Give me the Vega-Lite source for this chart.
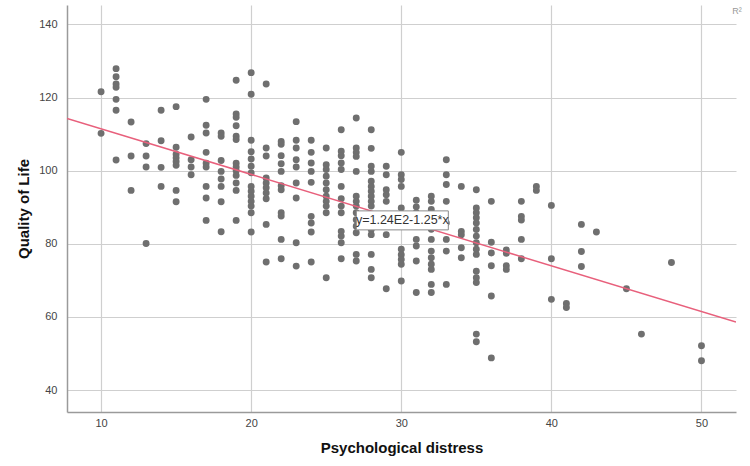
{
  "$schema": "https://vega.github.io/schema/vega-lite/v6.json",
  "width": 669,
  "height": 407,
  "autosize": {"type": "none"},
  "padding": {"left": 67, "top": 5, "right": 14, "bottom": 54},
  "config": {
    "font": "Liberation Sans",
    "view": {"stroke": null},
    "axis": {
      "labelFont": "Liberation Sans",
      "titleFont": "Liberation Sans",
      "labelColor": "#444444",
      "labelFontSize": 11,
      "titleFontSize": 15,
      "titleFontWeight": "bold",
      "titleColor": "#111111",
      "ticks": false,
      "domainColor": "#9a9a9a",
      "domainWidth": 1.5,
      "gridColor": "#cfcfcf",
      "gridWidth": 1.2
    }
  },
  "datasets": {
    "pts": [
      {"distress":10,"qol":121.6},{"distress":10,"qol":110.2},
      {"distress":11,"qol":127.9},{"distress":11,"qol":125.7},{"distress":11,"qol":123.7},{"distress":11,"qol":122.8},{"distress":11,"qol":119.5},{"distress":11,"qol":116.5},{"distress":11,"qol":102.9},
      {"distress":12,"qol":113.3},{"distress":12,"qol":104},{"distress":12,"qol":94.6},
      {"distress":13,"qol":107.4},{"distress":13,"qol":104},{"distress":13,"qol":101},{"distress":13,"qol":80.1},
      {"distress":14,"qol":116.5},{"distress":14,"qol":108.2},{"distress":14,"qol":100.9},{"distress":14,"qol":95.7},
      {"distress":15,"qol":117.5},{"distress":15,"qol":106.4},{"distress":15,"qol":104.5},{"distress":15,"qol":103.5},{"distress":15,"qol":102.5},{"distress":15,"qol":101.5},{"distress":15,"qol":94.6},{"distress":15,"qol":91.5},
      {"distress":16,"qol":109.2},{"distress":16,"qol":103},{"distress":16,"qol":101},{"distress":16,"qol":98.9},
      {"distress":17,"qol":119.5},{"distress":17,"qol":112.4},{"distress":17,"qol":110.3},{"distress":17,"qol":105},{"distress":17,"qol":102},{"distress":17,"qol":101},{"distress":17,"qol":95.7},{"distress":17,"qol":92.5},{"distress":17,"qol":86.4},
      {"distress":18,"qol":110.3},{"distress":18,"qol":109.4},{"distress":18,"qol":102.8},{"distress":18,"qol":99.8},{"distress":18,"qol":97.7},{"distress":18,"qol":95.7},{"distress":18,"qol":91.5},{"distress":18,"qol":83.3},
      {"distress":19,"qol":124.7},{"distress":19,"qol":115.5},{"distress":19,"qol":114.6},{"distress":19,"qol":112.3},{"distress":19,"qol":109.4},{"distress":19,"qol":108.5},{"distress":19,"qol":102},{"distress":19,"qol":101},{"distress":19,"qol":100},{"distress":19,"qol":98.7},{"distress":19,"qol":96.6},{"distress":19,"qol":94.6},{"distress":19,"qol":86.4},
      {"distress":20,"qol":126.8},{"distress":20,"qol":120.9},{"distress":20,"qol":108.3},{"distress":20,"qol":105.2},{"distress":20,"qol":103.2},{"distress":20,"qol":101.2},{"distress":20,"qol":99.4},{"distress":20,"qol":95.7},{"distress":20,"qol":94.4},{"distress":20,"qol":93},{"distress":20,"qol":91.6},{"distress":20,"qol":90.3},{"distress":20,"qol":88.5},{"distress":20,"qol":83.2},
      {"distress":21,"qol":123.7},{"distress":21,"qol":106.2},{"distress":21,"qol":104},{"distress":21,"qol":98},{"distress":21,"qol":96.6},{"distress":21,"qol":95.3},{"distress":21,"qol":93.9},{"distress":21,"qol":92.3},{"distress":21,"qol":85.3},{"distress":21,"qol":75},
      {"distress":22,"qol":108},{"distress":22,"qol":107.2},{"distress":22,"qol":104.1},{"distress":22,"qol":101.9},{"distress":22,"qol":99.8},{"distress":22,"qol":95.9},{"distress":22,"qol":94.8},{"distress":22,"qol":88.5},{"distress":22,"qol":87.6},{"distress":22,"qol":81.2},{"distress":22,"qol":75.9},
      {"distress":23,"qol":113.4},{"distress":23,"qol":108.3},{"distress":23,"qol":106.2},{"distress":23,"qol":103},{"distress":23,"qol":101},{"distress":23,"qol":96.6},{"distress":23,"qol":92.5},{"distress":23,"qol":80.3},{"distress":23,"qol":73.9},
      {"distress":24,"qol":108.3},{"distress":24,"qol":105},{"distress":24,"qol":102.1},{"distress":24,"qol":99.8},{"distress":24,"qol":96.8},{"distress":24,"qol":87.5},{"distress":24,"qol":85.7},{"distress":24,"qol":83.2},{"distress":24,"qol":75},
      {"distress":25,"qol":106.2},{"distress":25,"qol":101.6},{"distress":25,"qol":100.3},{"distress":25,"qol":98.5},{"distress":25,"qol":96.6},{"distress":25,"qol":94.8},{"distress":25,"qol":93},{"distress":25,"qol":91.6},{"distress":25,"qol":90.3},{"distress":25,"qol":88.5},{"distress":25,"qol":70.7},
      {"distress":26,"qol":111.2},{"distress":26,"qol":105.3},{"distress":26,"qol":104.1},{"distress":26,"qol":102.1},{"distress":26,"qol":100.3},{"distress":26,"qol":95.7},{"distress":26,"qol":92.3},{"distress":26,"qol":90.3},{"distress":26,"qol":88.5},{"distress":26,"qol":83.4},{"distress":26,"qol":82.1},{"distress":26,"qol":80.3},{"distress":26,"qol":75.9},
      {"distress":27,"qol":114.4},{"distress":27,"qol":106.2},{"distress":27,"qol":105},{"distress":27,"qol":103.9},{"distress":27,"qol":99.8},{"distress":27,"qol":93},{"distress":27,"qol":91.6},{"distress":27,"qol":90.3},{"distress":27,"qol":88.5},{"distress":27,"qol":86.6},{"distress":27,"qol":84.8},{"distress":27,"qol":83},{"distress":27,"qol":77.1},{"distress":27,"qol":75.3},
      {"distress":28,"qol":111.2},{"distress":28,"qol":106.1},{"distress":28,"qol":101.2},{"distress":28,"qol":99.8},{"distress":28,"qol":97.1},{"distress":28,"qol":95.7},{"distress":28,"qol":94.4},{"distress":28,"qol":93},{"distress":28,"qol":91.6},{"distress":28,"qol":90.3},{"distress":28,"qol":87.5},{"distress":28,"qol":85.7},{"distress":28,"qol":83.9},{"distress":28,"qol":82.5},{"distress":28,"qol":77.1},{"distress":28,"qol":73},{"distress":28,"qol":70.7},
      {"distress":29,"qol":101.2},{"distress":29,"qol":98.9},{"distress":29,"qol":94.8},{"distress":29,"qol":93.4},{"distress":29,"qol":91.6},{"distress":29,"qol":86.6},{"distress":29,"qol":82.5},{"distress":29,"qol":67.7},
      {"distress":30,"qol":105},{"distress":30,"qol":98.9},{"distress":30,"qol":97.6},{"distress":30,"qol":95.7},{"distress":30,"qol":89.8},{"distress":30,"qol":88},{"distress":30,"qol":86.2},{"distress":30,"qol":84.8},{"distress":30,"qol":78.5},{"distress":30,"qol":77},{"distress":30,"qol":75.7},{"distress":30,"qol":74.4},{"distress":30,"qol":69.8},
      {"distress":31,"qol":91.9},{"distress":31,"qol":90.1},{"distress":31,"qol":88.5},{"distress":31,"qol":87.1},{"distress":31,"qol":81.2},{"distress":31,"qol":79.4},{"distress":31,"qol":75.3},{"distress":31,"qol":66.7},
      {"distress":32,"qol":93},{"distress":32,"qol":91.6},{"distress":32,"qol":89.4},{"distress":32,"qol":87.1},{"distress":32,"qol":84},{"distress":32,"qol":81.2},{"distress":32,"qol":78},{"distress":32,"qol":76.2},{"distress":32,"qol":74.4},{"distress":32,"qol":73},{"distress":32,"qol":68.9},{"distress":32,"qol":66.7},
      {"distress":33,"qol":103},{"distress":33,"qol":98.9},{"distress":33,"qol":96.2},{"distress":33,"qol":91.6},{"distress":33,"qol":85.7},{"distress":33,"qol":81.2},{"distress":33,"qol":78},{"distress":33,"qol":68.9},
      {"distress":34,"qol":95.7},{"distress":34,"qol":83.4},{"distress":34,"qol":82.5},{"distress":34,"qol":78.9},{"distress":34,"qol":76.2},
      {"distress":35,"qol":94.8},{"distress":35,"qol":89.8},{"distress":35,"qol":88.5},{"distress":35,"qol":87.1},{"distress":35,"qol":85.7},{"distress":35,"qol":83.9},{"distress":35,"qol":82.1},{"distress":35,"qol":80.3},{"distress":35,"qol":78.5},{"distress":35,"qol":77.1},{"distress":35,"qol":72.5},{"distress":35,"qol":70.7},{"distress":35,"qol":69.4},{"distress":35,"qol":55.3},{"distress":35,"qol":53.2},
      {"distress":36,"qol":91.6},{"distress":36,"qol":80.4},{"distress":36,"qol":77.5},{"distress":36,"qol":74},{"distress":36,"qol":65.7},{"distress":36,"qol":48.8},
      {"distress":37,"qol":78.3},{"distress":37,"qol":77.4},{"distress":37,"qol":74},{"distress":37,"qol":73},
      {"distress":38,"qol":91.6},{"distress":38,"qol":87.5},{"distress":38,"qol":86.5},{"distress":38,"qol":81.2},{"distress":38,"qol":75.9},
      {"distress":39,"qol":95.7},{"distress":39,"qol":94.6},
      {"distress":40,"qol":90.5},{"distress":40,"qol":75.9},{"distress":40,"qol":64.8},
      {"distress":41,"qol":63.7},{"distress":41,"qol":62.6},
      {"distress":42,"qol":85.3},{"distress":42,"qol":77.9},{"distress":42,"qol":73.8},
      {"distress":43,"qol":83.2},
      {"distress":45,"qol":67.7},
      {"distress":46,"qol":55.3},
      {"distress":48,"qol":74.9},
      {"distress":50,"qol":52.1},{"distress":50,"qol":48}
    ],
    "fit": [
      {"distress":7.73,"qol":114.3},
      {"distress":52.3,"qol":58.6}
    ],
    "eq": [
      {"distress":30.07,"qol":86.4,"label":"y=1.24E2-1.25*x"}
    ],
    "r2": [
      {"distress":52.3,"qol":145.3,"label":"R²"}
    ]
  },
  "encoding": {
    "x": {
      "field": "distress", "type": "quantitative",
      "scale": {"domain": [7.73, 52.3], "nice": false, "zero": false},
      "axis": {"values": [10, 20, 30, 40, 50], "title": "Psychological distress", "labelPadding": 5, "titlePadding": 12}
    },
    "y": {
      "field": "qol", "type": "quantitative",
      "scale": {"domain": [34, 145.3], "nice": false, "zero": false},
      "axis": {"values": [40, 60, 80, 100, 120, 140], "title": "Quality of Life", "labelPadding": 10, "titlePadding": 7}
    }
  },
  "layer": [
    {
      "data": {"name": "pts"},
      "mark": {"type": "circle", "size": 48, "color": "#6f6f6f", "opacity": 1}
    },
    {
      "data": {"name": "fit"},
      "mark": {"type": "line", "color": "#e8607c", "strokeWidth": 1.5, "clip": true}
    },
    {
      "data": {"name": "eq"},
      "mark": {"type": "rect", "width": 92, "height": 19, "fill": "white", "stroke": "#8a8a8a", "strokeWidth": 1}
    },
    {
      "data": {"name": "eq"},
      "mark": {"type": "text", "fontSize": 12.5, "color": "#333333", "font": "Liberation Sans"},
      "encoding": {"text": {"field": "label"}}
    },
    {
      "data": {"name": "r2"},
      "mark": {"type": "text", "fontSize": 9, "color": "#999999", "align": "center", "baseline": "top", "dy": 2, "dx": 1},
      "encoding": {"text": {"field": "label"}}
    }
  ]
}
